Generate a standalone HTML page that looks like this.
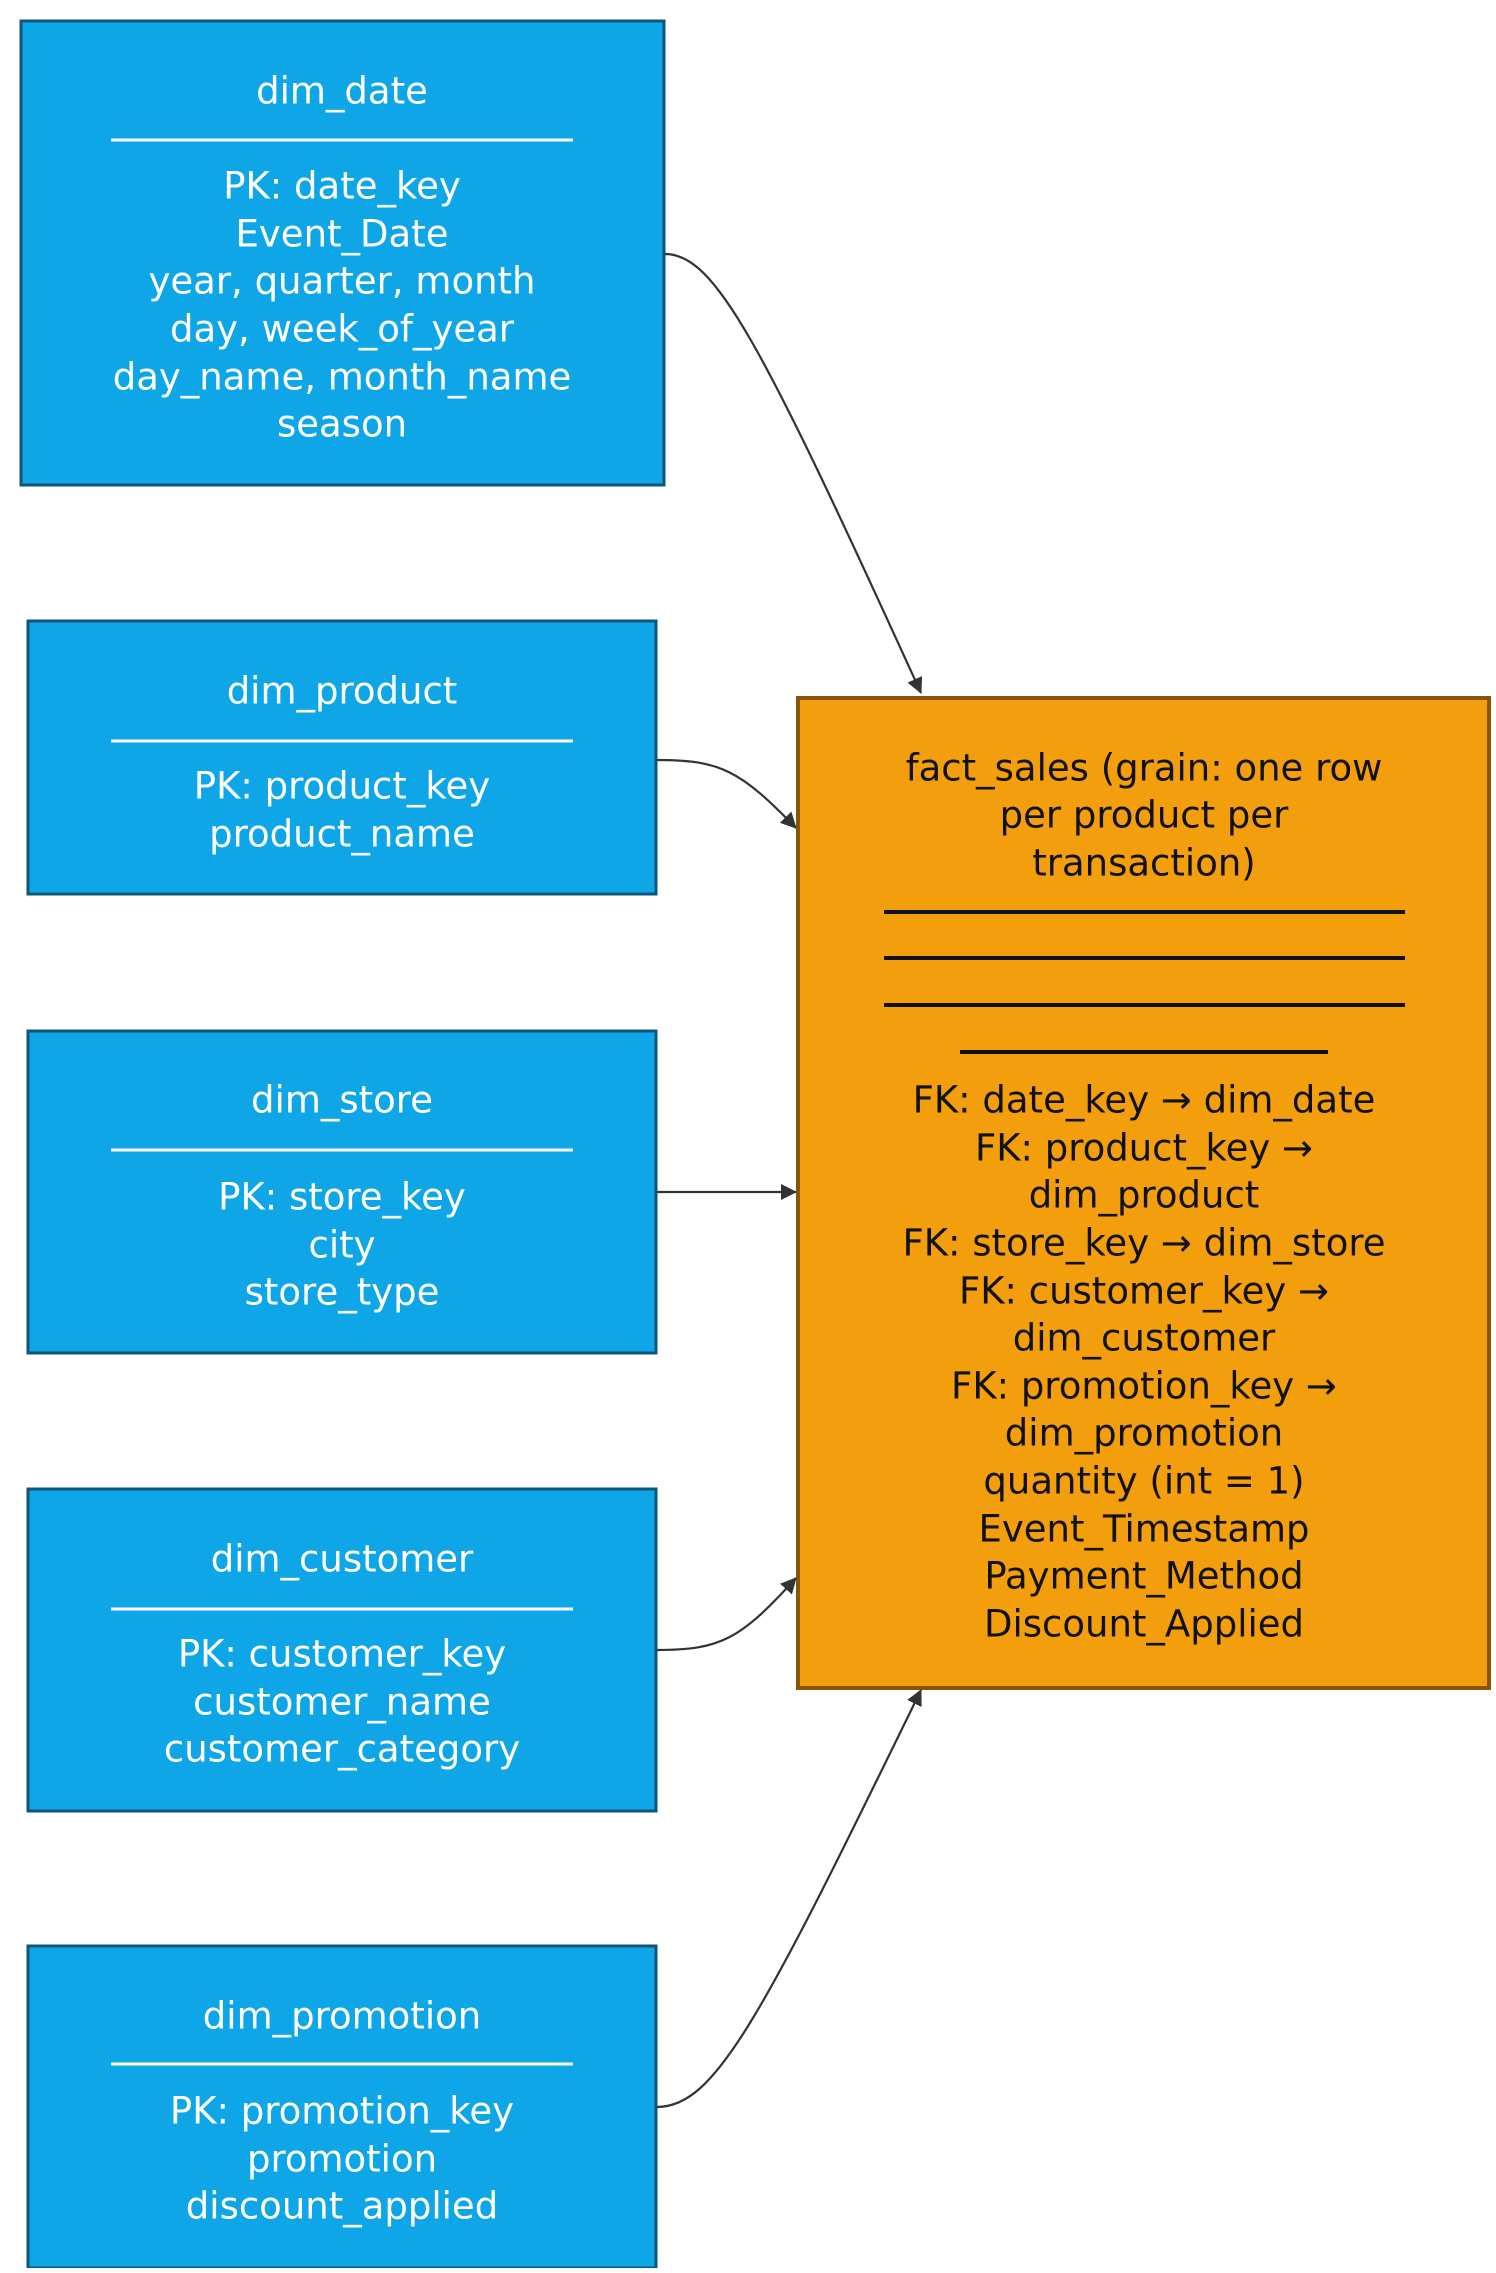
<!DOCTYPE html>
<html><head><meta charset="utf-8"><style>
html,body{margin:0;padding:0;background:#fff;}
svg text{font-family:"DejaVu Sans","Liberation Sans",sans-serif;font-size:37px;text-anchor:middle;dominant-baseline:central;}
.w{fill:#fff}.k{fill:#111}
</style></head><body>
<svg width="1496" height="2268" viewBox="0 0 1496 2268" xmlns="http://www.w3.org/2000/svg">
<defs><marker id="a" markerWidth="16" markerHeight="16" refX="15" refY="8" orient="auto" markerUnits="userSpaceOnUse"><path d="M0,0 L16,8 L0,16 z" fill="#333"/></marker></defs>
<g fill="#0fa6e8" stroke="#0d5677" stroke-width="3">
<rect x="21" y="21" width="643" height="464"/>
<rect x="28" y="621" width="628" height="273"/>
<rect x="28" y="1031" width="628" height="322"/>
<rect x="28" y="1489" width="628" height="322"/>
<rect x="28" y="1946" width="628" height="322"/>
</g>
<rect x="798" y="698" width="691" height="990" fill="#f39e0c" stroke="#8a5405" stroke-width="4"/>
<g fill="none" stroke="#333" stroke-width="2.2" marker-end="url(#a)">
<path d="M665,254 C715,254 760,340 921,693"/>
<path d="M657,760 C720,760 740,770 796,828"/>
<path d="M657,1192 L796,1192"/>
<path d="M657,1650 C720,1650 740,1640 796,1578"/>
<path d="M657,2107 C715,2107 760,2020 921,1690"/>
</g>
<g stroke="#fff" stroke-width="3">
<line x1="111" y1="140" x2="573" y2="140"/><line x1="111" y1="741" x2="573" y2="741"/>
<line x1="111" y1="1150" x2="573" y2="1150"/><line x1="111" y1="1609" x2="573" y2="1609"/>
<line x1="111" y1="2064" x2="573" y2="2064"/>
</g>
<g stroke="#111" stroke-width="4">
<line x1="884" y1="912" x2="1405" y2="912"/><line x1="884" y1="958" x2="1405" y2="958"/>
<line x1="884" y1="1005" x2="1405" y2="1005"/><line x1="960" y1="1052" x2="1328" y2="1052"/>
</g>
<g class="w">
<text x="342" y="91">dim_date</text>
<text x="342" y="186">PK: date_key</text><text x="342" y="234">Event_Date</text><text x="342" y="281">year, quarter, month</text><text x="342" y="329">day, week_of_year</text><text x="342" y="377">day_name, month_name</text><text x="342" y="424">season</text>
<text x="342" y="691">dim_product</text><text x="342" y="786">PK: product_key</text><text x="342" y="834">product_name</text>
<text x="342" y="1100">dim_store</text><text x="342" y="1197">PK: store_key</text><text x="342" y="1245">city</text><text x="342" y="1292">store_type</text>
<text x="342" y="1559">dim_customer</text><text x="342" y="1654">PK: customer_key</text><text x="342" y="1702">customer_name</text><text x="342" y="1749">customer_category</text>
<text x="342" y="2016">dim_promotion</text><text x="342" y="2111">PK: promotion_key</text><text x="342" y="2159">promotion</text><text x="342" y="2206">discount_applied</text>
</g>
<g class="k">
<text x="1144" y="768">fact_sales (grain: one row</text><text x="1144" y="815">per product per</text><text x="1144" y="863">transaction)</text>
<text x="1144" y="1100">FK: date_key → dim_date</text>
<text x="1144" y="1148">FK: product_key →</text>
<text x="1144" y="1195">dim_product</text>
<text x="1144" y="1243">FK: store_key → dim_store</text>
<text x="1144" y="1291">FK: customer_key →</text>
<text x="1144" y="1338">dim_customer</text>
<text x="1144" y="1386">FK: promotion_key →</text>
<text x="1144" y="1433">dim_promotion</text>
<text x="1144" y="1481">quantity (int = 1)</text>
<text x="1144" y="1529">Event_Timestamp</text>
<text x="1144" y="1576">Payment_Method</text>
<text x="1144" y="1624">Discount_Applied</text>
</g>
</svg>
</body></html>
